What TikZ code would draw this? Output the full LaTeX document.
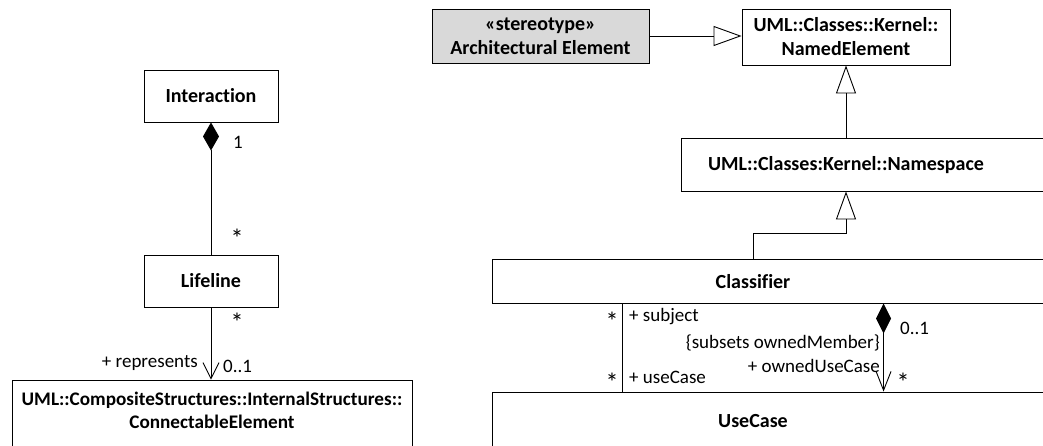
\documentclass[tikz,border=0pt]{standalone}
\usepackage{fontspec}
\setmainfont{Carlito}[Ligatures=NoCommon]
\usetikzlibrary{arrows.meta,calc}
\definecolor{stgray}{HTML}{D9D9D9}
\begin{document}
\begin{tikzpicture}[x=1pt,y=-1pt,
  box/.style={draw=black,line width=0.9pt,rectangle,inner sep=0pt,align=center,font=\fontsize{20}{24}\selectfont\bfseries},
  lbl/.style={inner sep=0pt,font=\fontsize{19}{23}\selectfont},
  star/.style={inner sep=0pt,yshift=-5pt,font=\fontsize{26}{26}\selectfont},
  ttl/.style={inner sep=0pt,align=center,font=\fontsize{20}{24}\selectfont\bfseries},
  conn/.style={draw=black,line width=0.9pt},
  gen/.style={conn,-{Triangle[open,length=28pt,width=20pt,fill=white]}},
  comp/.style={conn,{Diamond[length=28pt,width=16pt]}-},
  compnav/.style={conn,{Diamond[length=30pt,width=15pt]}-{Straight Barb[length=19pt,width=15pt]}},
  nav/.style={conn,-{Straight Barb[length=16pt,width=16pt]}}
]
\useasboundingbox (0,0) rectangle (1043,446);
\clip (0,0) rectangle (1043,446);
\fill[white] (0,0) rectangle (1043,446);

% left part
\node[box,minimum width=134pt,minimum height=52pt] (interaction) at (211,96) {Interaction};
\node[box,minimum width=134pt,minimum height=52pt] (lifeline) at (211,281) {Lifeline};
\node[box,minimum width=400pt,minimum height=100pt] (connectable) at (212,430) {};
\node[ttl,anchor=north,font=\fontsize{19.2}{23}\selectfont\bfseries] (connlbl) at ($(connectable.north)+(0,12)$) {UML::CompositeStructures::InternalStructures::\\ConnectableElement};

\draw[comp] (interaction.south) -- (lifeline.north);
\draw[nav] (lifeline.south) -- (lifeline.south |- connectable.north);

\node[lbl] (m1) at (238,142) {1};
\node[star] (m2) at (237,233) {*};
\node[star] (m3) at (237,317) {*};
\node[lbl,anchor=east] (rep) at (198,363) {+ represents};
\node[lbl,anchor=west] (m4) at (223,366) {0..1};

% right part
\node[box,fill=stgray,minimum width=217pt,minimum height=54pt] (stereo) at (540.5,36) {«stereotype»\\Architectural Element};
\node[box,minimum width=208pt,minimum height=56pt] (named) at (846,37) {UML::Classes::Kernel::\\NamedElement};
\node[box,minimum width=440pt,minimum height=53pt] (namespace) at (901,164.5) {};
\node[ttl] (nslbl) at (846,165) {UML::Classes:Kernel::Namespace};
\node[box,minimum width=620pt,minimum height=44pt] (classifier) at (802,281) {};
\node[ttl] (clslbl) at (753,282) {Classifier};
\node[box,minimum width=620pt,minimum height=100pt] (usecase) at (802,442) {};
\node[ttl] (uclbl) at (753,421) {UseCase};

\draw[gen] (stereo.east) -- (stereo.east -| named.west);
\draw[gen] (named.south |- namespace.north) -- (named.south);
\coordinate (cg) at ($(classifier.north west)+(262,0)$);
\draw[gen] (cg) -- ++(0,-25) -| (named.south |- namespace.south);

\coordinate (sa) at ($(classifier.south west)+(131,0)$);
\draw[conn] (sa) -- (sa |- usecase.north);
\coordinate (sb) at ($(classifier.south west)+(392,0)$);
\draw[compnav] (sb) -- (sb |- usecase.north);

\node[star] (m5) at (612,316) {*};
\node[star] (m6) at (612,377) {*};
\node[lbl,anchor=west] (subj) at (629,317) {+ subject};
\node[lbl,anchor=west] (uc) at (629,377) {+ useCase};
\node[lbl,anchor=west] (m7) at (900,328) {0..1};
\node[lbl,anchor=east] (sub) at (880,343) {\{subsets ownedMember\}};
\node[lbl,anchor=east] (ouc) at (880,366) {+ ownedUseCase};
\node[star] (m8) at (903,377) {*};
\end{tikzpicture}
\end{document}
